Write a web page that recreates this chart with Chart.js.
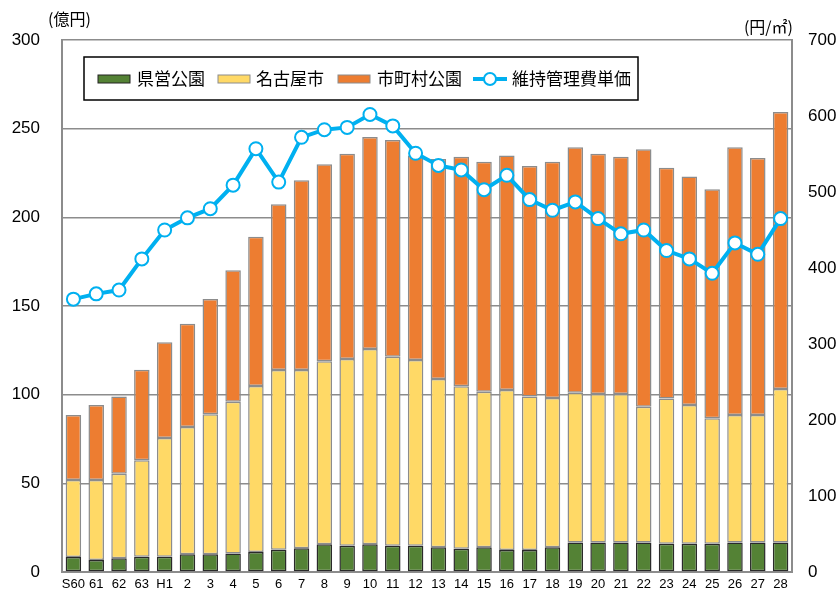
<!DOCTYPE html>
<html>
<head>
<meta charset="utf-8">
<script src="https://cdn.jsdelivr.net/npm/chart.js@4"></script>
<style>
  body { margin: 0; background: #fff; overflow: hidden; }
  canvas { display: block; }
</style>
</head>
<body>
<canvas id="grafico" width="837" height="591"></canvas>
<script>
const nendo = ['S60', '61', '62', '63', 'H1', '2', '3', '4', '5', '6', '7', '8', '9', '10', '11', '12',
  '13', '14', '15', '16', '17', '18', '19', '20', '21', '22', '23', '24', '25', '26', '27', '28'];

// 億円
const kenei = [8.5, 6.8, 7.7, 8.6, 8.6, 10, 10, 10.5, 11.3, 12.6, 13.4, 15.6, 14.8, 15.6, 14.8, 14.8,
  13.9, 13.1, 13.9, 12.4, 12.4, 13.9, 16.7, 16.7, 16.7, 16.7, 16, 16, 16, 16.7, 16.7, 16.7];
const nagoya = [43.4, 45.1, 47.7, 54.4, 67.0, 71.8, 78.9, 85.5, 93.6, 101.3, 100.5, 103.2, 105.3, 110.2, 106.6, 104.8,
  95.0, 91.6, 87.8, 90.2, 86.5, 84.2, 84.4, 83.7, 83.7, 76.5, 81.8, 78.2, 70.7, 71.8, 71.8, 86.5];
const shichoson = [36.6, 42.3, 43.6, 51.0, 54.0, 58.2, 65.1, 74.2, 84.1, 93.5, 107.0, 111.1, 115.7, 119.5, 122.2, 115.2,
  124.0, 129.5, 129.7, 132.2, 130.1, 133.3, 138.4, 135.4, 133.8, 145.2, 130.1, 128.8, 129.1, 151.0, 145.0, 156.2];
// 円/㎡
const tanka = [359, 366, 371, 412, 450, 466, 478, 509, 557, 513, 572, 582, 585, 602, 587, 551,
  535, 529, 503, 522, 490, 476, 487, 465, 445, 450, 423, 412, 393, 433, 418, 465];

const ejeIzq = [0, 50, 100, 150, 200, 250, 300];
const ejeDer = [0, 100, 200, 300, 400, 500, 600, 700];

const JP = '"Noto Sans CJK JP", sans-serif';
const NUM = '"Liberation Sans", Arial, sans-serif';
const GRIS = '#8c8c8c';

// leyenda con marco, dentro del area
const leyenda = {
  id: 'leyenda',
  afterDraw(chart) {
    const c = chart.ctx;
    c.save();
    c.strokeStyle = '#000';
    c.lineWidth = 1.5;
    c.fillStyle = '#fff';
    c.fillRect(84, 57, 554, 43);
    c.strokeRect(84, 57, 554, 43);

    c.font = '17px ' + JP;
    c.textBaseline = 'middle';
    const y = 79;
    const items = [
      { ds: 1, x: 98, tx: 137 },
      { ds: 2, x: 218, tx: 256 },
      { ds: 3, x: 338, tx: 377 }
    ];
    items.forEach(it => {
      const d = chart.data.datasets[it.ds];
      c.fillStyle = d.backgroundColor;
      c.fillRect(it.x, y - 4, 32, 8);
      c.strokeStyle = it.ds === 1 ? '#222' : GRIS;
      c.lineWidth = 1;
      c.strokeRect(it.x, y - 4, 32, 8);
      c.fillStyle = '#000';
      c.fillText(d.label, it.tx, y);
    });
    const l = chart.data.datasets[0];
    c.strokeStyle = l.borderColor;
    c.lineWidth = 4;
    c.beginPath();
    c.moveTo(473, y);
    c.lineTo(507, y);
    c.stroke();
    c.beginPath();
    c.arc(490, y, 6, 0, Math.PI * 2);
    c.fillStyle = '#fff';
    c.fill();
    c.lineWidth = 2;
    c.stroke();
    c.fillStyle = '#000';
    c.fillText(l.label, 512, y);

    // unidades
    c.font = '16px ' + JP;
    c.textBaseline = 'middle';
    c.fillText('(億円)', 48, 19);
    c.textAlign = 'right';
    c.fillText('(円/㎡)', 793, 27);
    c.restore();
  }
};

new Chart(document.getElementById('grafico'), {
  data: {
    labels: nendo,
    datasets: [
      {
        type: 'line',
        label: '維持管理費単価',
        data: tanka,
        yAxisID: 'y1',
        order: 0,
        borderColor: '#00B0F0',
        borderWidth: 4,
        pointRadius: 6.5,
        pointBorderWidth: 2,
        pointBackgroundColor: '#fff',
        pointBorderColor: '#00B0F0',
        tension: 0
      },
      {
        type: 'bar',
        label: '県営公園',
        data: kenei,
        yAxisID: 'y',
        order: 1,
        backgroundColor: '#548235',
        borderColor: '#2a2a2a',
        borderWidth: 1.5,
        borderSkipped: false,
        barPercentage: 0.68,
        categoryPercentage: 1
      },
      {
        type: 'bar',
        label: '名古屋市',
        data: nagoya,
        yAxisID: 'y',
        order: 1,
        backgroundColor: '#FFD966',
        borderColor: GRIS,
        borderWidth: 1.5,
        borderSkipped: false,
        barPercentage: 0.68,
        categoryPercentage: 1
      },
      {
        type: 'bar',
        label: '市町村公園',
        data: shichoson,
        yAxisID: 'y',
        order: 1,
        backgroundColor: '#ED7D31',
        borderColor: GRIS,
        borderWidth: 1.5,
        borderSkipped: false,
        barPercentage: 0.68,
        categoryPercentage: 1
      }
    ]
  },
  options: {
    responsive: false,
    animation: false,
    layout: { padding: { top: 40, left: 0, right: 0, bottom: 0 } },
    plugins: {
      legend: { display: false },
      tooltip: { enabled: false }
    },
    scales: {
      x: {
        stacked: true,
        grid: { display: false, drawTicks: false },
        border: { color: GRIS, width: 2 },
        ticks: { color: '#000', font: { family: NUM, size: 13 }, padding: 5, maxRotation: 0, autoSkip: false },
        afterFit(s) { s.height = 19; s.paddingLeft = 0; s.paddingRight = 0; }
      },
      y: {
        stacked: true,
        position: 'left',
        min: 0,
        max: 300,
        afterBuildTicks(s) { s.ticks = ejeIzq.map(v => ({ value: v })); },
        grid: { color: GRIS, lineWidth: 1.5, drawTicks: false },
        border: { color: GRIS, width: 2 },
        ticks: { color: '#000', font: { family: NUM, size: 17 }, padding: 22 },
        afterFit(s) { s.width = 62; s.paddingTop = 0; s.paddingBottom = 0; }
      },
      y1: {
        position: 'right',
        min: 0,
        max: 700,
        afterBuildTicks(s) { s.ticks = ejeDer.map(v => ({ value: v })); },
        grid: { display: false, drawTicks: false },
        border: { color: GRIS, width: 2 },
        ticks: { color: '#000', font: { family: NUM, size: 17 }, padding: 16 },
        afterFit(s) { s.width = 45; s.paddingTop = 0; s.paddingBottom = 0; }
      }
    }
  },
  plugins: [leyenda]
});
</script>
</body>
</html>
